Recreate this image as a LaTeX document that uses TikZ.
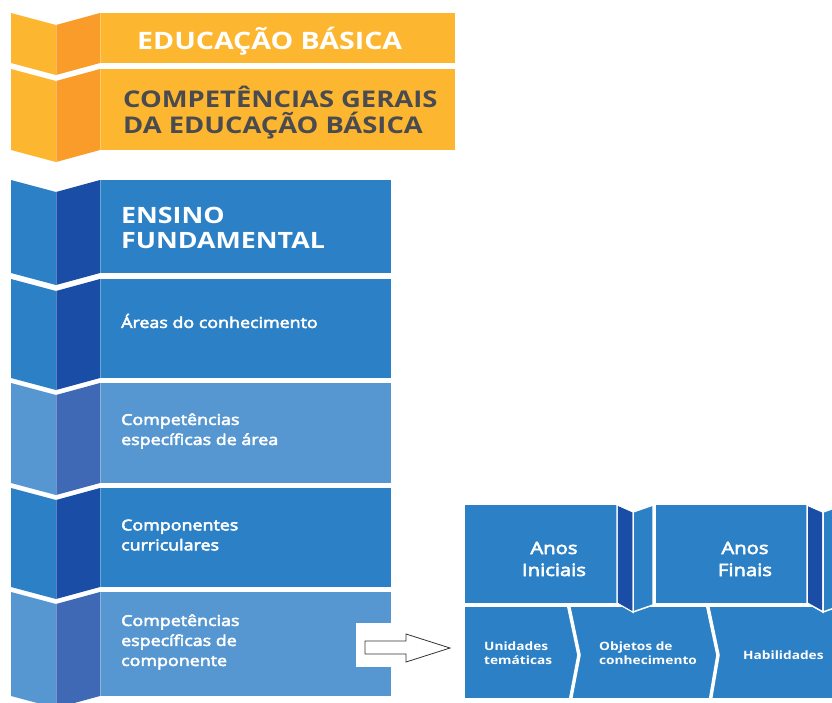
\documentclass[tikz,border=0pt]{standalone}
\usepackage{fontspec}
\setmainfont{Open Sans}[FakeStretch=1.19]
\newfontfamily\medfont{Open Sans}[FakeStretch=1.19,FakeBold=3.5]
\definecolor{orMain}{HTML}{FDB62F}
\definecolor{orDark}{HTML}{F99C2A}
\definecolor{grayTxt}{HTML}{4A4B50}
\definecolor{blMain}{HTML}{2C80C6}
\definecolor{blDark}{HTML}{1A4DA5}
\definecolor{blLight}{HTML}{5697D2}
\definecolor{blLightDark}{HTML}{3F69B4}
\newcommand\foldband[6]{% top, bottom, facecolor, darkcolor, maincolor, right x
  \fill[#3] (11,#1) -- (56,{#1+12}) -- (56,{#2+12}) -- (11,#2) -- cycle;
  \fill[#4] (56,{#1+12}) -- (100,#1) -- (100,#2) -- (56,{#2+12}) -- cycle;
  \fill[#5] (100,#1) rectangle (#6,#2);
  \draw[faint] (56,{#1+12}) -- (56,{#2+12});
  \draw[faint] (100,#1) -- (100,#2);
}
\begin{document}
\begin{tikzpicture}[x=1pt,y=-1pt,
  faint/.style={draw=white,draw opacity=0.3,line width=0.6pt},
  titlew/.style={text=white,font=\fontsize{24}{26}\selectfont\bfseries,inner sep=0pt},
  titleg/.style={text=grayTxt,font=\fontsize{23}{26}\selectfont\bfseries,inner sep=0pt,align=left},
  titleb/.style={text=white,font=\fontsize{22.5}{25}\selectfont\bfseries,inner sep=0pt,align=left},
  bandtext/.style={text=white,font=\fontsize{15}{20}\selectfont\medfont,inner sep=0pt,align=left,anchor=west},
  anostext/.style={text=white,font=\fontsize{17}{22}\selectfont\medfont,inner sep=0pt,align=center},
  smalltext/.style={text=white,font=\fontsize{11.5}{13.5}\selectfont\bfseries,inner sep=0pt,align=left,anchor=west},
  sep/.style={draw=white,line width=3.5pt},
  blockarrow/.style={draw=black!80,fill=white,line width=0.8pt,line join=miter}
]
\useasboundingbox[fill=white] (0,0) rectangle (832,702);

% orange block
\foldband{13}{63}{orMain}{orDark}{orMain}{455}
\foldband{69}{150}{orMain}{orDark}{orMain}{455}
\node[titlew,anchor=west] (edu) at (137,41) {EDUCAÇÃO BÁSICA};
\node[titleg,anchor=west] (cg) at (123,113) {COMPETÊNCIAS GERAIS\\DA EDUCAÇÃO BÁSICA};

% blue column
\foldband{180}{273}{blMain}{blDark}{blMain}{391}
\foldband{279}{378}{blMain}{blDark}{blMain}{391}
\foldband{383}{483}{blLight}{blLightDark}{blLight}{391}
\foldband{488}{587}{blMain}{blDark}{blMain}{391}
\foldband{592}{696}{blLight}{blLightDark}{blLight}{391}

\node[titleb,anchor=west] (ef) at (121,228) {ENSINO\\FUNDAMENTAL};
\node[bandtext] (areas) at (121,321) {Áreas do conhecimento};
\node[bandtext] (cea) at (121,431) {Competências\\específicas de área};
\node[bandtext] (cc) at (121,535) {Componentes\\curriculares};
\node[bandtext] (cec) at (121,642) {Competências\\específicas de\\componente};

% white patch and block arrow
\fill[white] (356,623) rectangle (392,667);
\draw[blockarrow] (365,641) -- (406,641) -- (406,634) -- (450,648) -- (406,662) -- (406,654) -- (365,654) -- cycle;

% right panel: bottom row
\fill[blMain] (465,607) rectangle (832,698);
\draw[sep] (568,603) -- (579,655) -- (570,702);
\draw[sep] (707,603) -- (718,655) -- (710,702);

% right panel: top row
\fill[blMain] (465,505) rectangle (617,603);
\fill[white] (465,502) rectangle (475,505);
\draw[white,line width=1.5pt,fill=blDark] (617,505) -- (633,512) -- (633,612) -- (617,603) -- cycle;
\draw[white,line width=1.5pt,fill=blMain] (633,512) -- (653,505) -- (653,605) -- (633,612) -- cycle;
\fill[blDark] (617.8,506) -- (632.3,512.5) -- (632.3,611) -- (617.8,602.5) -- cycle;
\fill[blMain] (656,505) rectangle (807,603);
\draw[white,line width=1.5pt,fill=blDark] (807,505) -- (823,512) -- (823,612) -- (807,603) -- cycle;
\draw[white,line width=1.5pt,fill=blMain] (823,512) -- (843,505) -- (843,605) -- (823,612) -- cycle;

\node[anostext] (ai) at (554,559) {Anos\\Iniciais};
\node[anostext] (af) at (745,559) {Anos\\Finais};
\node[smalltext] (ut) at (484,653) {Unidades\\temáticas};
\node[smalltext] (oc) at (599,653) {Objetos de\\conhecimento};
\node[smalltext] (hab) at (743,655) {Habilidades};
\end{tikzpicture}
\end{document}
